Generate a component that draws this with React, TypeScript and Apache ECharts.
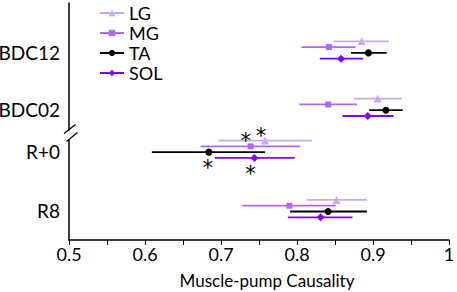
import React, { useEffect, useRef } from "react";
import * as echarts from "echarts";

const categories = ["BDC12", "BDC02", "R+0", "R8"];
const seriesNames = ["LG", "MG", "TA", "SOL"];

const lgMean = [0.885, 0.906, 0.758, 0.852];
const lgLow = [0.848, 0.875, 0.697, 0.813];
const lgHigh = [0.921, 0.938, 0.82, 0.892];

const mgMean = [0.842, 0.841, 0.739, 0.79];
const mgLow = [0.806, 0.803, 0.673, 0.728];
const mgHigh = [0.877, 0.879, 0.804, 0.851];

const taMean = [0.894, 0.917, 0.684, 0.841];
const taLow = [0.871, 0.895, 0.609, 0.791];
const taHigh = [0.918, 0.939, 0.758, 0.892];

const solMean = [0.858, 0.893, 0.744, 0.831];
const solLow = [0.83, 0.86, 0.692, 0.788];
const solHigh = [0.887, 0.927, 0.797, 0.873];

const lgSig = [false, false, true, false];
const mgSig = [false, false, true, false];
const taSig = [false, false, true, false];
const solSig = [false, false, true, false];

// layout (vertical positions, in y-axis units)
const catPos = [47, 104.3, 146.25, 205.6];
const seriesOffset = [-8.7, -2.9, 2.9, 8.7];
const labelShift = 2;

const colors = ["#c9aaf0", "#b366f5", "#000000", "#8000ff"];
const symbols = ["triangle", "rect", "circle", "diamond"];
const symbolSizes = [8, 6, 7, 8];
const sigOffsets: number[][] = [
  [-4, -5],
  [-5, -5],
  [-1, 16],
  [-4, 16],
];

const FONT = "Lato";

export default function App() {
  const ref = useRef<HTMLDivElement>(null);
  useEffect(() => {
    if (!ref.current) return;
    const chart = echarts.init(ref.current, undefined, { renderer: "svg" });
    const means = [lgMean, mgMean, taMean, solMean];
    const lows = [lgLow, mgLow, taLow, solLow];
    const highs = [lgHigh, mgHigh, taHigh, solHigh];
    const sigs = [lgSig, mgSig, taSig, solSig];

    const series: any[] = [];
    seriesNames.forEach((name, s) => {
      series.push({
        name: name + "-err",
        type: "custom",
        z: 2,
        silent: true,
        data: categories.map((_, i) => [lows[s][i], highs[s][i], catPos[i] + seriesOffset[s]]),
        encode: { x: [0, 1], y: 2 },
        renderItem: (params: any, api: any) => {
          const a = api.coord([api.value(0), api.value(2)]);
          const b = api.coord([api.value(1), api.value(2)]);
          return {
            type: "line",
            shape: { x1: a[0], y1: a[1], x2: b[0], y2: b[1] },
            style: { stroke: colors[s], lineWidth: 1.8 },
          };
        },
      });
    });
    seriesNames.forEach((name, s) => {
      series.push({
        name,
        type: "line",
        z: 3,
        symbol: symbols[s],
        symbolSize: symbolSizes[s],
        showSymbol: true,
        itemStyle: { color: colors[s] },
        lineStyle: { opacity: 0, color: colors[s], width: 2 },
        data: categories.map((_, i) => ({
          value: [means[s][i], catPos[i] + seriesOffset[s]],
          label: sigs[s][i]
            ? {
                show: true,
                formatter: "*",
                position: "inside",
                offset: sigOffsets[s],
                fontSize: 21,
                fontFamily: "DejaVu Sans",
                color: "#000",
              }
            : { show: false },
        })),
      });
    });

    chart.setOption({
      animation: false,
      grid: { left: 69, right: 8, top: 3, bottom: 52, outerBoundsMode: "none", containLabel: false },
      legend: {
        orient: "vertical",
        left: 99,
        top: 4,
        padding: 0,
        itemWidth: 24,
        itemHeight: 8,
        itemGap: 2,
        textStyle: { fontSize: 18, lineHeight: 17.5, fontFamily: FONT, color: "#000" },
        data: seriesNames.map((n, s) => ({
          name: n,
          lineStyle: { opacity: 1, color: colors[s], width: 2 },
        })),
      },
      xAxis: {
        type: "value",
        min: 0.5,
        max: 1,
        interval: 0.05,
        name: "Muscle-pump Causality",
        nameLocation: "middle",
        nameGap: 32,
        nameTextStyle: { fontSize: 17, fontFamily: FONT, color: "#000", padding: [0, 0, 0, 16] },
        axisLine: { show: true, onZero: false, lineStyle: { color: "#000", width: 1.5 } },
        axisTick: { show: true, length: 5, lineStyle: { color: "#000", width: 1 } },
        splitLine: { show: false },
        axisLabel: {
          fontSize: 18,
          fontFamily: FONT,
          color: "#000",
          margin: 5,
          formatter: (v: number) => {
            const t = v * 10;
            if (Math.abs(t - Math.round(t)) > 1e-6) return "";
            return Math.abs(v - 1) < 1e-6 ? "1" : v.toFixed(1);
          },
        },
      },
      yAxis: {
        type: "value",
        inverse: true,
        min: 0,
        max: 237,
        axisLine: { show: true, onZero: false, lineStyle: { color: "#000", width: 1.5 } },
        axisTick: { show: false },
        splitLine: { show: false },
        axisLabel: {
          customValues: catPos.map((p) => p + labelShift),
          fontSize: 19,
          fontFamily: FONT,
          color: "#000",
          margin: 9,
          formatter: (v: number) => {
            let best = 0;
            let d = Infinity;
            catPos.forEach((p, i) => {
              const dd = Math.abs(p + labelShift - v);
              if (dd < d) {
                d = dd;
                best = i;
              }
            });
            return categories[best];
          },
        },
      },
      graphic: [
        { type: "rect", shape: { x: 65, y: 130.5, width: 7, height: 9.5 }, style: { fill: "#fff" }, z: 10 },
        { type: "line", shape: { x1: 64, y1: 133.5, x2: 75.5, y2: 124.5 }, style: { stroke: "#000", lineWidth: 1.3 }, z: 11 },
        { type: "line", shape: { x1: 66.5, y1: 141.5, x2: 77.5, y2: 132.5 }, style: { stroke: "#000", lineWidth: 1.3 }, z: 11 },
      ],
      series,
    });
    return () => chart.dispose();
  }, []);
  return (
    <div
      ref={ref}
      style={{ position: "fixed", left: 0, top: 0, width: 457, height: 292, background: "#fff" }}
    />
  );
}
